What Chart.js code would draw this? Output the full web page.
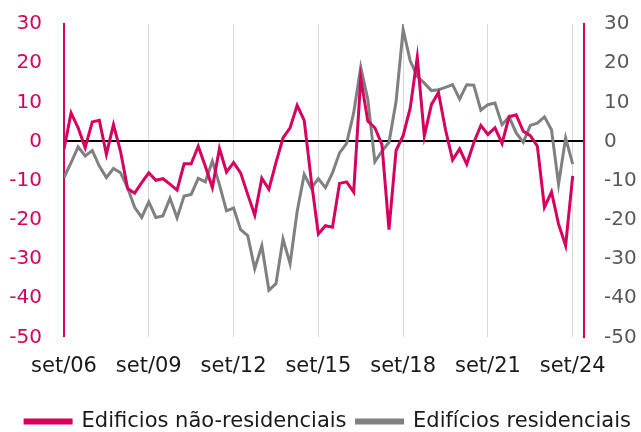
<!DOCTYPE html>
<html><head><meta charset="utf-8">
<script src="https://cdn.jsdelivr.net/npm/chart.js@4/dist/chart.umd.min.js"></script>
<style>html,body{margin:0;padding:0;background:#fff;overflow:hidden}</style>
</head><body>
<canvas id="c" width="641" height="432"></canvas>
<script>
// Quarterly data, Q3 2006 (set/06) .. Q3 2024 (set/24), index 0..72
const tickPositions = [0, 12, 24, 36, 48, 60, 72];
const tickLabels = ['set/06', 'set/09', 'set/12', 'set/15', 'set/18', 'set/21', 'set/24'];
const seriesNames = ['Edificios não-residenciais', 'Edifícios residenciais'];

const naoResidenciais = [
  -2, 7.3, 3.5, -1.6, 5.0, 5.4, -3.3, 4.3, -2.5, -12.0, -13.2, -10.5,
  -8.0, -9.9, -9.5, -10.9, -12.4, -5.7, -5.7, -1.2, -6.3, -11.8, -1.8, -7.8,
  -5.4, -8.0, -13.5, -18.8, -9.4, -12.2, -5.4, 0.9, 3.5, 9.2, 5.4, -10,
  -23.6, -21.5, -21.9, -10.7, -10.3, -12.9, 16.2, 5.2, 3.5, -0.8, -22.5, -2.3,
  1.5, 8.5, 21.5, 1.4, 9.4, 12.5, 3, -4.7, -1.9, -5.8, -0.3, 4.1,
  1.8, 3.5, -0.5, 6.3, 6.8, 2.6, 1.5, -1.2, -16.8, -12.9, -21.1, -26.6,
  -8.8
];
const residenciais = [
  -9.2, -5.4, -1.4, -3.7, -2.3, -6.3, -9.2, -6.9, -8.0, -11.8, -16.8, -19.4,
  -15.4, -19.4, -19.0, -14.5, -19.5, -13.9, -13.5, -9.4, -10.3, -5.0, -11, -17.7,
  -17.0, -22.5, -24.0, -32.5, -26.6, -38.0, -36.3, -24.9, -31.2, -17.9, -8.4, -11.9,
  -9.5, -11.8, -8.0, -2.9, -0.5, 7.3, 19.0, 10.8, -5.2, -2.5, -0.2, 10.2,
  28.6, 20.6, 16.6, 14.9, 13.0, 13.2, 13.8, 14.5, 10.8, 14.5, 14.4, 8.0,
  9.4, 9.8, 4.3, 6.3, 2.2, -0.2, 4.1, 4.7, 6.3, 3.0, -10.9, 0.9,
  -5.8
];

const RED = '#D6005E';
const GREY = '#808080';
const FONT = 'DejaVu Sans';

const toPoints = arr => arr.map((v, i) => ({x: i, y: v}));

new Chart(document.getElementById('c'), {
  type: 'line',
  data: {
    datasets: [
      {label: seriesNames[0], data: toPoints(naoResidenciais), borderColor: RED, backgroundColor: RED,
       borderWidth: 3, pointRadius: 0, tension: 0, yAxisID: 'y'},
      {label: seriesNames[1], data: toPoints(residenciais), borderColor: GREY, backgroundColor: GREY,
       borderWidth: 3, pointRadius: 0, tension: 0, yAxisID: 'y'}
    ]
  },
  options: {
    responsive: false,
    animation: false,
    devicePixelRatio: 1,
    layout: {padding: {top: 24, left: 0, right: 0, bottom: 0}},
    plugins: {
      tooltip: {enabled: false},
      legend: {
        position: 'bottom',
        align: 'end',
        maxHeight: 31,
        labels: {
          boxWidth: 46, boxHeight: 3, padding: 10,
          color: '#1a1a1a',
          font: {family: FONT, size: 21}
        }
      }
    },
    scales: {
      x: {
        type: 'linear', min: 0, max: 73.6,
        afterBuildTicks: s => { s.ticks = tickPositions.map(v => ({value: v})); },
        afterFit: s => { s.height = 63.7; },
        grid: {color: '#d9d9d9', lineWidth: 1, drawTicks: false},
        border: {display: false},
        ticks: {
          autoSkip: false, maxRotation: 0, padding: 17, color: '#1a1a1a',
          font: {family: FONT, size: 21},
          callback: v => tickLabels[tickPositions.indexOf(v)] ?? ''
        }
      },
      y: {
        position: 'left', min: -50, max: 30,
        afterFit: s => { s.width = 64; s.paddingTop = 0; s.paddingBottom = 0; },
        grid: {
          drawTicks: false,
          color: c => (c.tick && c.tick.value === 0) ? '#000000' : 'rgba(0,0,0,0)',
          lineWidth: c => (c.tick && c.tick.value === 0) ? 2 : 0
        },
        border: {color: RED, width: 2},
        ticks: {stepSize: 10, padding: 22, color: RED, font: {family: FONT, size: 20}}
      },
      y2: {
        position: 'right', min: -50, max: 30,
        afterFit: s => { s.width = 57; s.paddingTop = 0; s.paddingBottom = 0; },
        grid: {display: false, drawTicks: false},
        border: {color: RED, width: 2},
        ticks: {stepSize: 10, padding: 20, color: '#595959', font: {family: FONT, size: 20}}
      }
    }
  }
});
</script>
</body></html>
